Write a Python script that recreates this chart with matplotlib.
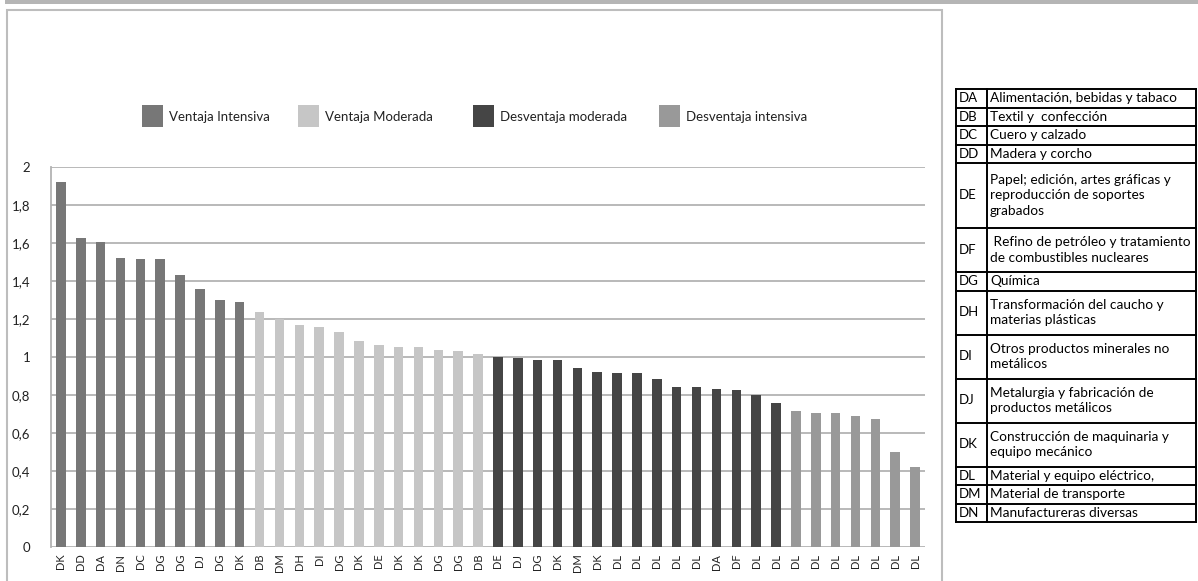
import matplotlib.pyplot as plt
import numpy as np
from matplotlib.patches import Rectangle

plt.rcParams['font.family'] = ['Lato', 'DejaVu Sans']

# sector code of each bar, in plotted order
codigos = ['DK', 'DD', 'DA', 'DN', 'DC', 'DG', 'DG', 'DJ', 'DG', 'DK',
           'DB', 'DM', 'DH', 'DI', 'DG', 'DK', 'DE', 'DK', 'DK', 'DG', 'DG', 'DB',
           'DE', 'DJ', 'DG', 'DK', 'DM', 'DK', 'DL', 'DL', 'DL', 'DL', 'DL', 'DA', 'DF', 'DL', 'DL',
           'DL', 'DL', 'DL', 'DL', 'DL', 'DL', 'DL']
valores = [1.92, 1.625, 1.608, 1.524, 1.517, 1.517, 1.431, 1.357, 1.301, 1.288,
           1.236, 1.200, 1.169, 1.156, 1.134, 1.083, 1.065, 1.053, 1.053, 1.037, 1.032, 1.015,
           0.998, 0.993, 0.986, 0.986, 0.940, 0.923, 0.918, 0.918, 0.882, 0.844, 0.844, 0.830, 0.825, 0.798, 0.760,
           0.716, 0.707, 0.707, 0.688, 0.672, 0.500, 0.421]
# group of each bar (index into grupos)
grupo = [0, 0, 0, 0, 0, 0, 0, 0, 0, 0,
         1, 1, 1, 1, 1, 1, 1, 1, 1, 1, 1, 1,
         2, 2, 2, 2, 2, 2, 2, 2, 2, 2, 2, 2, 2, 2, 2,
         3, 3, 3, 3, 3, 3, 3]
grupos = ['Ventaja Intensiva', 'Ventaja Moderada', 'Desventaja moderada', 'Desventaja intensiva']
colores = ['#777777', '#c6c6c6', '#454545', '#999999']
yticks = [0, 0.2, 0.4, 0.6, 0.8, 1, 1.2, 1.4, 1.6, 1.8, 2]

# legend table on the right
tabla_cod = ['DA', 'DB', 'DC', 'DD', 'DE', 'DF', 'DG', 'DH', 'DI', 'DJ', 'DK', 'DL', 'DM', 'DN']
tabla_txt = ['Alimentación, bebidas y tabaco',
             'Textil y  confección',
             'Cuero y calzado',
             'Madera y corcho',
             'Papel; edición, artes gráficas y\nreproducción de soportes\ngrabados',
             ' Refino de petróleo y tratamiento\nde combustibles nucleares',
             'Química',
             'Transformación del caucho y\nmaterias plásticas',
             'Otros productos minerales no\nmetálicos',
             'Metalurgia y fabricación de\nproductos metálicos',
             'Construcción de maquinaria y\nequipo mecánico',
             'Material y equipo eléctrico,',
             'Material de transporte',
             'Manufactureras diversas']

W, H = 1198, 581
fig = plt.figure(figsize=(W / 100, H / 100), dpi=100)

def fx(x):
    return x / W

def fy(y):
    return 1 - y / H

# top grey band and chart frame
fig.add_artist(Rectangle((fx(5), fy(4)), fx(W - 5), 4 / H, transform=fig.transFigure,
                         facecolor='#b5b5b5', edgecolor='none'))
fig.add_artist(Rectangle((fx(7), fy(590)), fx(942 - 7), (590 - 10) / H, transform=fig.transFigure,
                         facecolor='none', edgecolor='#bdbdbd', lw=1.5))

ax = fig.add_axes([fx(51), fy(546.7), fx(925 - 51), (546.7 - 167.3) / H])
x = np.arange(len(valores))
ax.bar(x, valores, width=0.48, color=[colores[g] for g in grupo], zorder=3)
ax.set_xlim(-0.5, len(valores) - 0.5)
ax.set_ylim(0, 2)
ax.set_yticks(yticks)
ax.set_yticklabels([('%g' % v).replace('.', ',') for v in yticks], fontsize=9.5, color='#222222')
ax.set_xticks(x)
ax.set_xticklabels(codigos, rotation=90, fontsize=8, color='#222222')
ax.tick_params(axis='both', length=0)
ax.tick_params(axis='y', pad=15)
ax.tick_params(axis='x', pad=5)
ax.grid(axis='y', color='#b3b3b3', lw=1.3, zorder=0)
for s in ['top', 'right', 'bottom']:
    ax.spines[s].set_visible(False)
ax.spines['left'].set_color('#b3b3b3')
ax.spines['left'].set_linewidth(1.3)

# legend across the top
leg_x = [142, 298, 473, 659]
for i, nombre in enumerate(grupos):
    fig.add_artist(Rectangle((fx(leg_x[i]), fy(127)), 21 / W, 22 / H, transform=fig.transFigure,
                             facecolor=colores[i], edgecolor='none'))
    fig.text(fx(leg_x[i] + 27), fy(117), nombre, fontsize=9.5, va='center', ha='left', color='#222222')

# sector table
alturas = {1: 18.5, 2: 44, 3: 65}
t_left, t_mid, t_right = 956, 987, 1196
y = 89
fig.add_artist(plt.Line2D([fx(t_left), fx(t_right)], [fy(y), fy(y)], transform=fig.transFigure, color='k', lw=1.4))
for cod, txt in zip(tabla_cod, tabla_txt):
    h = alturas[txt.count('\n') + 1]
    yc = y + h / 2
    fig.text(fx(t_left + 3), fy(yc), cod, fontsize=9.5, va='center', ha='left')
    fig.text(fx(t_mid + 3), fy(yc), txt, fontsize=9.8, va='center', ha='left', linespacing=1.35)
    y += h
    fig.add_artist(plt.Line2D([fx(t_left), fx(t_right)], [fy(y), fy(y)], transform=fig.transFigure, color='k', lw=1.4))
for xx in [t_left, t_mid, t_right]:
    fig.add_artist(plt.Line2D([fx(xx), fx(xx)], [fy(89), fy(y)], transform=fig.transFigure, color='k', lw=1.4))

fig.savefig('out.png', dpi=100)
